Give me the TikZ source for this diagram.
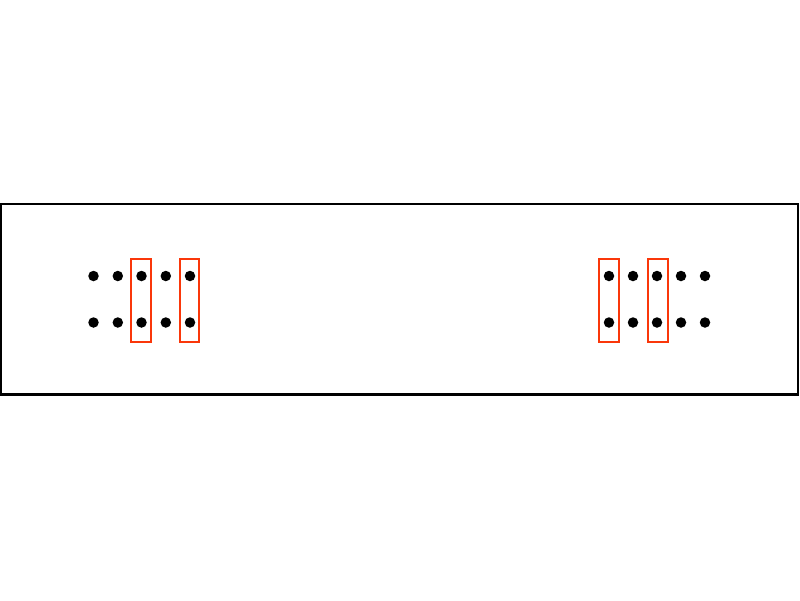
\documentclass[tikz,border=0pt]{standalone}
\definecolor{redbox}{RGB}{250,55,10}
\tikzset{
  dot/.style={circle,fill=black,inner sep=0pt,minimum size=10.5pt},
  selbox/.style={draw=redbox,line width=2pt,inner sep=0pt,minimum width=19.5pt,minimum height=83pt},
  frame/.style={draw=black,line width=2.6pt,inner sep=0pt}
}
\begin{document}
\begin{tikzpicture}[x=1pt,y=-1pt]
\useasboundingbox (0,0) rectangle (800,600);
\node[frame,minimum width=797pt,minimum height=190.5pt] (outer) at (399.5,299.3) {};
\foreach \i/\x in {1/93.5,2/117.8,3/141.5,4/165.8,5/190} {
  \node[dot] (lt\i) at (\x,276) {};
  \node[dot] (lb\i) at (\x,322.5) {};
}
\foreach \i/\x in {1/609,2/633,3/657,4/681,5/705} {
  \node[dot] (rt\i) at (\x,276) {};
  \node[dot] (rb\i) at (\x,322.5) {};
}
\node[selbox] (lbox1) at (141,300) {};
\node[selbox] (lbox2) at (189.7,300) {};
\node[selbox] (rbox1) at (608.8,300) {};
\node[selbox] (rbox2) at (658,300) {};
\end{tikzpicture}
\end{document}
